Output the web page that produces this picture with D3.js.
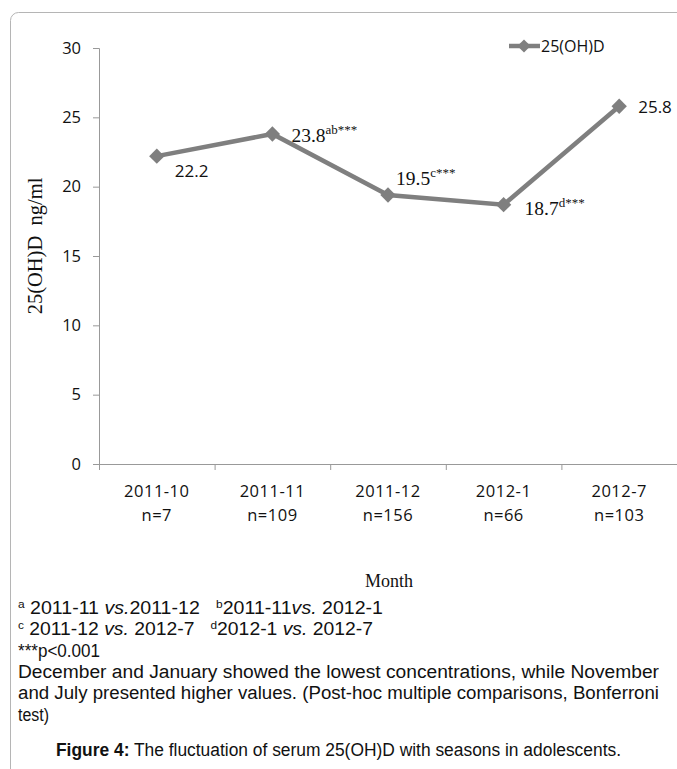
<!DOCTYPE html>
<html><head><meta charset="utf-8">
<script src="https://cdn.jsdelivr.net/npm/d3@7"></script>
<style>body{margin:0;background:#fff}svg{display:block}</style>
</head><body>
<svg id="c" width="677" height="769"></svg>
<script>
const months = ["2011-10","2011-11","2011-12","2012-1","2012-7"];
const nLabels = ["n=7","n=109","n=156","n=66","n=103"];
const values = [22.2, 23.8, 19.4, 18.7, 25.8];
const valueText = ["22.2","23.8","19.5","18.7","25.8"];
const superscripts = ["","ab***","c***","d***",""];
const yTicks = [0,5,10,15,20,25,30];
const seriesName = "25(OH)D";
const footLines = [
  [["sup","a"],["n"," 2011-11 "],["i","vs."],["n","2011-12   "],["sup","b"],["n","2011-11"],["i","vs."],["n"," 2012-1"]],
  [["sup","c"],["n"," 2011-12 "],["i","vs."],["n"," 2012-7   "],["sup","d"],["n","2012-1 "],["i","vs."],["n"," 2012-7"]],
  [["n","***p<0.001"]]
];
const footWidths = [365, 355, 82];
const para = ["December and January showed the lowest concentrations, while November",
              "and July presented higher values. (Post-hoc multiple comparisons, Bonferroni",
              "test)"];
const paraWidths = [641, 641, 31];

const svg = d3.select("#c");
const grey = "#7f7f7f";
const calibri = "'Open Sans', 'Noto Sans', sans-serif";
const arial = "'Liberation Sans', Arial, sans-serif";
const times = "'Liberation Serif', 'Times New Roman', serif";

// frame
svg.append("rect").attr("x",10.5).attr("y",12.5).attr("width",700).attr("height",800)
  .attr("rx",8).attr("fill","none").attr("stroke","#b5b5b5").attr("stroke-width",1);

const x = d3.scaleBand().domain(months).range([99,677]).padding(0);
const y = d3.scaleLinear().domain([0,30]).range([464,48]);

// y axis
const ya = svg.append("g").attr("transform","translate(99,0)")
  .call(d3.axisLeft(y).tickValues(yTicks).tickSize(6).tickPadding(12));
ya.select(".domain").attr("stroke","#999").attr("d","M-6,48.5H0.5V464.5");
ya.selectAll(".tick line").attr("stroke","#999");
ya.selectAll("text").attr("font-family",calibri).attr("font-size",16.5).attr("fill","#111");

// x axis
const xa = svg.append("g").attr("transform","translate(0,464)");
xa.append("line").attr("x1",99).attr("x2",677).attr("y1",0.5).attr("y2",0.5).attr("stroke","#999");
const edges = months.map(m=>x(m)).concat([x(months[months.length-1])+x.bandwidth()]);
xa.selectAll(".tk").data(edges).join("line").attr("x1",d=>d+0.5).attr("x2",d=>d+0.5)
  .attr("y1",0).attr("y2",6).attr("stroke","#999");
xa.selectAll(".m").data(months).join("text").attr("x",d=>x(d)+x.bandwidth()/2).attr("y",33)
  .attr("text-anchor","middle").attr("font-family",calibri).attr("font-size",16.5).attr("letter-spacing",0.5)
  .attr("fill","#111").text(d=>d);
xa.selectAll(".n").data(nLabels).join("text").attr("x",(d,i)=>x(months[i])+x.bandwidth()/2).attr("y",57)
  .attr("text-anchor","middle").attr("font-family",calibri).attr("font-size",16.5).attr("letter-spacing",0.5)
  .attr("fill","#111").text(d=>d);

// axis titles
svg.append("text").attr("transform","translate(42,246) rotate(-90)").attr("text-anchor","middle")
  .attr("font-family",times).attr("font-size",20.5).attr("fill","#111")
  .style("white-space","pre").text("25(OH)D\u00a0\u00a0ng/ml");
svg.append("text").attr("x",389).attr("y",587).attr("text-anchor","middle")
  .attr("font-family",times).attr("font-size",18).attr("fill","#111")
  .text("Month");

// line
const cx = (d,i)=>x(months[i])+x.bandwidth()/2;
svg.append("path").datum(values).attr("fill","none").attr("stroke",grey).attr("stroke-width",4.5)
  .attr("d",d3.line().x(cx).y(d=>y(d)));
const diamond = d3.symbol().type(d3.symbolDiamond2).size(150);
svg.selectAll(".pt").data(values).join("path").attr("d",diamond)
  .attr("transform",(d,i)=>`translate(${cx(d,i)},${y(d)})`).attr("fill",grey);

// data labels
const lblOff = [[18,21,"c"],[19,8,"t"],[8,-10,"t"],[21,10,"t"],[19,7,"c"]];
values.forEach((v,i)=>{
  const [dx,dy,f] = lblOff[i];
  const t = svg.append("text").attr("x",cx(v,i)+dx).attr("y",y(v)+dy).attr("fill","#111");
  if(f==="c"){ t.attr("font-family",calibri).attr("font-size",17).text(valueText[i]); }
  else {
    t.attr("font-family",times).attr("font-size",19.5);
    t.append("tspan").text(valueText[i]);
    t.append("tspan").attr("font-size",13).attr("dy",-8).text(superscripts[i]);
  }
});

// legend
const lg = svg.append("g");
lg.append("line").attr("x1",509).attr("x2",540).attr("y1",46).attr("y2",46).attr("stroke",grey).attr("stroke-width",4.5);
lg.append("path").attr("d",d3.symbol().type(d3.symbolDiamond2).size(110)).attr("transform","translate(524,46)").attr("fill",grey);
lg.append("text").attr("x",541).attr("y",52).attr("font-family",calibri).attr("font-size",16).attr("fill","#111").text(seriesName);

// footnotes
const fy0 = 614, fdy = 21.3;
footLines.forEach((ln,li)=>{
  const t = svg.append("text").attr("x",18).attr("y",fy0+li*fdy).attr("font-family",arial).attr("font-size",18).attr("fill","#111")
    .attr("xml:space","preserve").style("white-space","pre")
    .attr("textLength",footWidths[li]).attr("lengthAdjust","spacingAndGlyphs");
  ln.forEach(([k,s])=>{
    const sp = t.append("tspan").text(s);
    if(k==="sup") sp.attr("font-size",11).attr("baseline-shift","super");
    if(k==="i") sp.attr("font-style","italic");
  });
});
para.forEach((s,i)=>{
  svg.append("text").attr("x",18).attr("y",fy0+(3+i)*fdy).attr("font-family",arial).attr("font-size",18).attr("fill","#111")
    .attr("textLength",paraWidths[i]).attr("lengthAdjust","spacingAndGlyphs").text(s);
});
const cap = svg.append("text").attr("x",56).attr("y",756).attr("font-family",arial).attr("font-size",18).attr("fill","#111")
  .attr("textLength",565).attr("lengthAdjust","spacingAndGlyphs");
cap.append("tspan").attr("font-weight","bold").text("Figure 4:");
cap.append("tspan").text(" The fluctuation of serum 25(OH)D with seasons in adolescents.");
</script>
</body></html>
